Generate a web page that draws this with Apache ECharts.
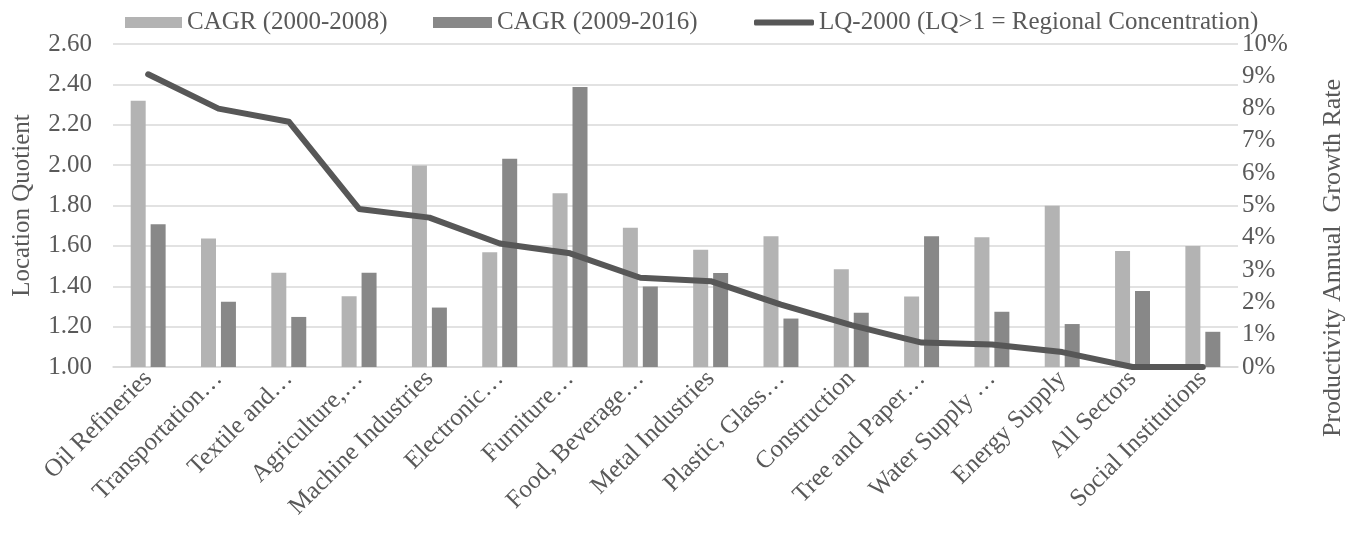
<!DOCTYPE html>
<html>
<head>
<meta charset="utf-8">
<script src="https://cdn.jsdelivr.net/npm/echarts@6/dist/echarts.min.js"></script>
<style>
  html, body { margin: 0; padding: 0; background: #fff; }
  #chart { width: 1358px; height: 537px; }
</style>
</head>
<body>
<div id="chart"></div>
<script>
// Sectors, ordered by location quotient in 2000
const sectors = [
  'Oil Refineries', 'Transportation…', 'Textile and…', 'Agriculture,…',
  'Machine Industries', 'Electronic…', 'Furniture…', 'Food, Beverage…',
  'Metal Industries', 'Plastic, Glass…', 'Construction', 'Tree and Paper…',
  'Water Supply …', 'Energy Supply', 'All Sectors', 'Social Institutions'
];

// Productivity compound annual growth rate, in percent
const cagr2000_2008 = [8.24, 3.98, 2.92, 2.19, 6.24, 3.55, 5.38, 4.31, 3.63, 4.05, 3.03, 2.18, 4.02, 4.99, 3.59, 3.75];
const cagr2009_2016 = [4.42, 2.02, 1.55, 2.92, 1.84, 6.45, 8.67, 2.49, 2.91, 1.50, 1.68, 4.05, 1.71, 1.33, 2.35, 1.09];

// Location quotient in 2000
const lq2000 = [2.45, 2.28, 2.215, 1.783, 1.74, 1.612, 1.563, 1.442, 1.425, 1.309, 1.207, 1.121, 1.111, 1.074, 1.00, 1.00];

// Axis ticks
const lqTicks = { min: 1.0, max: 2.6, step: 0.2 };
const rateTicks = { min: 0, max: 10, step: 1 };

const seriesNames = ['CAGR (2000-2008)', 'CAGR (2009-2016)', 'LQ-2000 (LQ>1 = Regional Concentration)'];

const FONT = '"Liberation Serif", "Times New Roman", serif';
const TEXT = '#595959';
const GRID_LINE = '#d9d9d9';
const LIGHT = '#b3b3b3';
const DARK = '#888888';
const LINE = '#575757';

const legendText = { fontFamily: FONT, fontSize: 25, color: TEXT };

const chart = echarts.init(document.getElementById('chart'), null, { renderer: 'canvas' });

chart.setOption({
  backgroundColor: '#ffffff',
  animation: false,
  textStyle: { fontFamily: FONT, color: TEXT },
  legend: [
    { top: 5, left: 120, itemWidth: 57, itemHeight: 11, icon: 'rect', textStyle: legendText, data: [seriesNames[0]] },
    { top: 5, left: 428, itemWidth: 59, itemHeight: 11, icon: 'rect', textStyle: legendText, data: [seriesNames[1]] },
    { top: 5, left: 749, itemWidth: 60, itemHeight: 6, icon: 'roundRect', textStyle: legendText, data: [seriesNames[2]] }
  ],
  grid: { left: 113, right: 120, top: 44, bottom: 170, containLabel: false },
  xAxis: {
    type: 'category',
    data: sectors,
    axisLine: { lineStyle: { color: GRID_LINE, width: 1.5 } },
    axisTick: { show: false },
    axisLabel: {
      interval: 0,
      rotate: 45,
      margin: 8,
      fontFamily: FONT,
      fontSize: 25,
      color: TEXT
    }
  },
  yAxis: [
    {
      type: 'value',
      min: lqTicks.min,
      max: lqTicks.max,
      interval: lqTicks.step,
      name: 'Location Quotient',
      nameLocation: 'middle',
      nameGap: 78,
      nameTextStyle: { fontFamily: FONT, fontSize: 25, color: TEXT },
      axisLine: { show: false },
      axisTick: { show: false },
      axisLabel: {
        margin: 21,
        fontFamily: FONT,
        fontSize: 25,
        color: TEXT,
        formatter: v => v.toFixed(2)
      },
      splitLine: { lineStyle: { color: GRID_LINE, width: 1.5 } }
    },
    {
      type: 'value',
      position: 'right',
      min: rateTicks.min,
      max: rateTicks.max,
      interval: rateTicks.step,
      axisLine: { show: false },
      axisTick: { show: false },
      axisLabel: {
        margin: 4,
        fontFamily: FONT,
        fontSize: 25,
        color: TEXT,
        formatter: '{value}%'
      },
      splitLine: { show: false }
    }
  ],
  graphic: [
    {
      type: 'text',
      x: 1333,
      y: 258,
      rotation: Math.PI / 2,
      style: {
        text: 'Productivity Annual  Growth Rate',
        fontFamily: FONT,
        fontSize: 26,
        fill: TEXT,
        align: 'center',
        verticalAlign: 'middle'
      }
    }
  ],
  series: [
    {
      name: seriesNames[0],
      type: 'bar',
      yAxisIndex: 1,
      data: cagr2000_2008,
      barWidth: 15,
      barGap: '33%',
      itemStyle: { color: LIGHT }
    },
    {
      name: seriesNames[1],
      type: 'bar',
      yAxisIndex: 1,
      data: cagr2009_2016,
      barWidth: 15,
      barGap: '33%',
      itemStyle: { color: DARK }
    },
    {
      name: seriesNames[2],
      type: 'line',
      yAxisIndex: 0,
      data: lq2000,
      symbol: 'none',
      lineStyle: { color: LINE, width: 6, cap: 'round', join: 'round' },
      itemStyle: { color: LINE },
      z: 5
    }
  ]
});
</script>
</body>
</html>
